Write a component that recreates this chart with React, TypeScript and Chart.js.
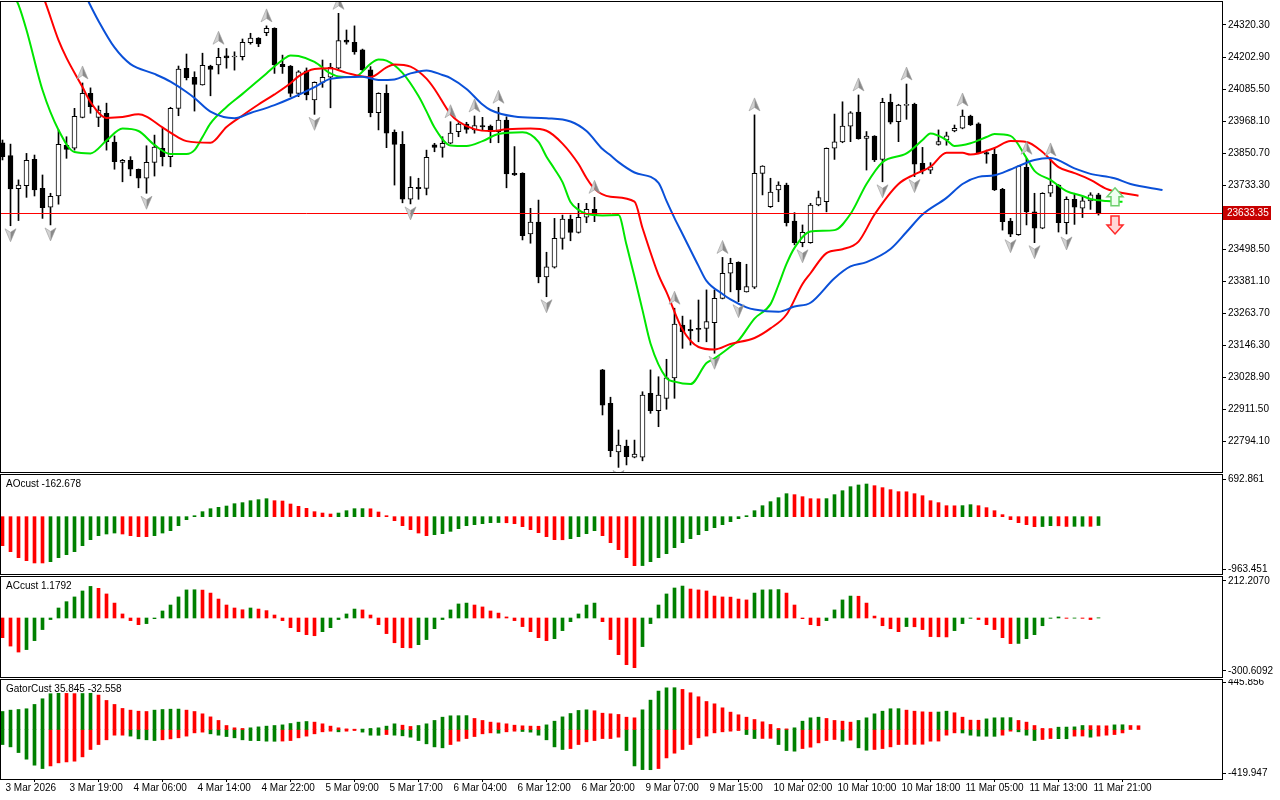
import React, { useEffect, useRef } from "react";
import { Chart, registerables } from "chart.js";

Chart.register(...registerables);

const FONT = "'Liberation Sans', Arial, sans-serif";
const GREEN = "#008000";
const RED = "#ff0000";
const X_MIN = -0.1875;
const X_MAX = 152.4375;

// ---- candles (hourly bars, index 0 = 3 Mar 2026 11:00) ----
const opens = [
  23889, 23842, 23721, 23732, 23828, 23722, 23653, 23694, 23880, 23869,
  23982, 24070, 23982, 23997, 23891, 23817, 23825, 23792, 23759, 23817,
  23869, 23838, 24015, 24162, 24129, 24101, 24170, 24174, 24207, 24203,
  24204, 24256, 24272, 24292, 24308, 24176, 24170, 24070, 24152, 24046,
  24110, 24129, 24162, 24265, 24257, 24229, 24156, 23999, 24070, 23927,
  23883, 23682, 23726, 23722, 23881, 23872, 23887, 23930, 23957, 23936,
  23952, 23950, 23930, 23972, 23777, 23777, 23555, 23598, 23398, 23433,
  23539, 23609, 23561, 23616, 23645, 23057, 22935, 22757, 22778, 22737,
  22737, 22971, 22908, 22953, 23028, 23221, 23206, 23209, 23209, 23230,
  23319, 23411, 23451, 23343, 23360, 23777, 23655, 23716, 23734, 23602,
  23523, 23523, 23661, 23673, 23869, 23892, 23950, 24001, 23905, 23913,
  23828, 24037, 23966, 24026, 24030, 23814, 23789, 23883, 23899, 23932,
  23942, 23987, 23958, 23853, 23847, 23718, 23602, 23552, 23799, 23636,
  23576, 23704, 23734, 23596, 23682, 23649, 23676, 23698,
];
const highs = [
  23899, 23884, 23753, 23850, 23844, 23771, 23704, 23936, 23911, 24015,
  24108, 24090, 24024, 24034, 23914, 23828, 23838, 23793, 23878, 23917,
  23942, 24019, 24170, 24214, 24149, 24217, 24173, 24235, 24234, 24222,
  24269, 24290, 24274, 24317, 24310, 24210, 24172, 24153, 24163, 24112,
  24192, 24180, 24363, 24302, 24317, 24232, 24168, 24072, 24101, 23936,
  23930, 23765, 23759, 23862, 23887, 23911, 23966, 23962, 23964, 23987,
  23982, 23954, 24019, 23984, 23875, 23779, 23649, 23679, 23488, 23612,
  23624, 23624, 23667, 23667, 23689, 23059, 22957, 22837, 22800, 22800,
  22977, 23057, 23032, 23096, 23283, 23254, 23240, 23313, 23350, 23350,
  23469, 23466, 23453, 23444, 23991, 23805, 23759, 23746, 23741, 23633,
  23588, 23667, 23712, 23870, 23994, 24039, 24003, 24064, 23930, 23915,
  24052, 24067, 24030, 24104, 24034, 23872, 23816, 23936, 23928, 23954,
  24009, 23990, 23962, 23862, 23869, 23722, 23612, 23806, 23832, 23704,
  23706, 23826, 23736, 23691, 23704, 23691, 23706, 23704,
];
const lows = [
  23826, 23585, 23604, 23689, 23694, 23612, 23588, 23664, 23832, 23862,
  23980, 23997, 23948, 23862, 23792, 23746, 23768, 23724, 23704, 23767,
  23804, 23801, 23988, 24119, 24005, 24100, 24061, 24141, 24162, 24155,
  24192, 24250, 24241, 24281, 24143, 24143, 24058, 24058, 24046, 23993,
  24092, 24017, 24159, 24250, 24213, 24153, 23984, 23936, 23871, 23734,
  23669, 23665, 23682, 23698, 23856, 23836, 23885, 23911, 23924, 23924,
  23936, 23889, 23889, 23724, 23769, 23533, 23521, 23376, 23325, 23430,
  23499, 23530, 23558, 23596, 23600, 22892, 22739, 22700, 22709, 22735,
  22724, 22898, 22849, 22913, 22953, 23136, 23148, 23160, 23160, 23118,
  23317, 23343, 23307, 23342, 23355, 23698, 23652, 23673, 23584, 23515,
  23508, 23521, 23658, 23636, 23828, 23889, 23893, 23902, 23789, 23820,
  23746, 23958, 23893, 23975, 23765, 23775, 23776, 23880, 23880, 23929,
  23940, 23952, 23851, 23814, 23714, 23569, 23545, 23550, 23588, 23523,
  23574, 23692, 23562, 23555, 23590, 23615, 23645, 23624,
];
const closes = [
  23838, 23720, 23734, 23825, 23716, 23651, 23693, 23883, 23865, 23986,
  24070, 24021, 24009, 23893, 23820, 23825, 23792, 23759, 23817, 23873,
  23838, 24015, 24159, 24127, 24103, 24173, 24158, 24202, 24200, 24206,
  24257, 24272, 24251, 24308, 24174, 24168, 24070, 24149, 24064, 24110,
  24129, 24165, 24263, 24257, 24222, 24156, 23999, 24070, 23924, 23883,
  23682, 23726, 23721, 23836, 23872, 23887, 23924, 23957, 23938, 23952,
  23947, 23930, 23972, 23775, 23771, 23549, 23598, 23398, 23435, 23539,
  23609, 23561, 23616, 23645, 23624, 22928, 22761, 22782, 22739, 22749,
  22965, 22908, 22965, 23028, 23225, 23197, 23200, 23205, 23234, 23319,
  23411, 23447, 23350, 23362, 23777, 23804, 23708, 23734, 23596, 23523,
  23561, 23661, 23688, 23869, 23892, 23950, 23999, 23904, 23913, 23826,
  24037, 23964, 24027, 24030, 23811, 23786, 23801, 23893, 23914, 23942,
  23987, 23954, 23853, 23847, 23716, 23600, 23554, 23804, 23636, 23576,
  23704, 23734, 23596, 23682, 23653, 23676, 23698, 23633.35,
];
const CURRENT_PRICE = 23633.35;

const xTickIndex = [0, 8, 16, 24, 32, 40, 48, 56, 64, 72, 80, 88, 96, 104, 112, 120, 128, 136];
const xTickLabels = [
  "3 Mar 2026", "3 Mar 19:00", "4 Mar 06:00", "4 Mar 14:00", "4 Mar 22:00", "5 Mar 09:00",
  "5 Mar 17:00", "6 Mar 04:00", "6 Mar 12:00", "6 Mar 20:00", "9 Mar 07:00", "9 Mar 15:00",
  "10 Mar 02:00", "10 Mar 10:00", "10 Mar 18:00", "11 Mar 05:00", "11 Mar 13:00", "11 Mar 21:00",
];
const priceTicks = [
  24320.3, 24202.9, 24085.5, 23968.1, 23850.7, 23733.3, 23615.9,
  23498.5, 23381.1, 23263.7, 23146.3, 23028.9, 22911.5, 22794.1,
];

// ---- Alligator lines (bar index, price) ----
const jawX = [8, 10, 12, 14, 16, 19, 21, 23, 24, 26, 29, 31, 34, 36, 39, 41, 45, 47, 49, 51, 53, 55, 56, 58, 60, 61, 64, 68, 71, 73, 75, 76, 77, 79, 82, 83, 84, 85, 87, 88, 90, 91, 93, 94, 97, 99, 101, 104, 106, 108, 111, 113, 115, 118, 120, 122, 124, 126, 129, 131, 134, 136, 139, 141, 145];
const jawY = [24558, 24449, 24335, 24238, 24177, 24141, 24113, 24075, 24053, 24003, 23979, 23998, 24027, 24051, 24093, 24123, 24131, 24119, 24121, 24143, 24154, 24137, 24126, 24086, 24029, 24009, 23985, 23979, 23967, 23932, 23866, 23843, 23818, 23780, 23742, 23676, 23613, 23555, 23438, 23383, 23335, 23315, 23286, 23278, 23270, 23289, 23303, 23393, 23436, 23452, 23500, 23562, 23626, 23687, 23738, 23764, 23770, 23791, 23826, 23833, 23795, 23775, 23759, 23738, 23716];
const teethX = [4, 5, 7, 8, 10, 11, 13, 15, 17, 18, 20, 22, 23, 26, 28, 30, 32, 34, 36, 37, 39, 41, 43, 46, 48, 49, 51, 53, 54, 56, 57, 59, 61, 63, 66, 68, 70, 72, 73, 74, 76, 79, 80, 82, 83, 85, 87, 89, 91, 94, 96, 98, 100, 101, 103, 105, 107, 109, 112, 114, 116, 118, 120, 121, 124, 126, 128, 130, 132, 134, 136, 138, 140, 142];
const teethY = [24485, 24430, 24265, 24200, 24093, 24038, 23980, 23983, 23993, 23985, 23945, 23908, 23895, 23889, 23947, 23989, 24029, 24066, 24107, 24132, 24159, 24162, 24145, 24129, 24165, 24176, 24168, 24124, 24086, 23994, 23967, 23939, 23932, 23938, 23941, 23933, 23886, 23811, 23760, 23720, 23691, 23673, 23577, 23405, 23342, 23205, 23141, 23132, 23152, 23174, 23209, 23260, 23372, 23411, 23485, 23499, 23527, 23626, 23738, 23773, 23801, 23852, 23852, 23846, 23870, 23895, 23892, 23855, 23800, 23778, 23753, 23720, 23705, 23695];
const lipsX = [1, 2, 3, 5, 7, 9, 11, 13, 15, 17, 19, 21, 23, 24, 25, 26, 28, 30, 33, 35, 36, 37, 39, 41, 42, 44, 46, 47, 48, 50, 52, 53, 54, 56, 58, 60, 62, 65, 67, 68, 69, 70, 71, 72, 73, 75, 77, 78, 79, 80, 81, 83, 84, 86, 88, 89, 91, 92, 94, 96, 97, 98, 99, 101, 104, 106, 108, 110, 113, 115, 116, 118, 119, 121, 123, 124, 126, 128, 129, 131, 133, 135, 136, 138, 140];
const lipsY = [24449, 24394, 24302, 24082, 23936, 23855, 23850, 23897, 23941, 23932, 23881, 23848, 23848, 23862, 23910, 23960, 24020, 24068, 24143, 24192, 24209, 24207, 24185, 24143, 24132, 24130, 24178, 24194, 24190, 24145, 24060, 24004, 23945, 23879, 23877, 23895, 23921, 23927, 23892, 23838, 23793, 23745, 23672, 23643, 23628, 23623, 23624, 23515, 23398, 23276, 23154, 23027, 23014, 23005, 23082, 23099, 23142, 23165, 23245, 23298, 23368, 23445, 23504, 23564, 23569, 23628, 23738, 23818, 23850, 23899, 23923, 23899, 23877, 23887, 23910, 23921, 23914, 23833, 23786, 23753, 23712, 23694, 23683, 23676, 23673];

const fractalUp = [10, 27, 33, 42, 56, 59, 62, 74, 84, 90, 94, 107, 113, 120, 128, 131];
const fractalDown = [1, 6, 18, 39, 51, 68, 77, 89, 92, 100, 110, 114, 126, 129, 133];
const signalIndex = 139;
const signalUpPrice = 23724;
const signalDownPrice = 23621;

// ---- AO ----
const aoValues = [
  -534, -644, -754, -810, -852, -852, -828, -754, -699, -644,
  -534, -423, -350, -319, -301, -319, -350, -368, -368, -350,
  -301, -258, -166, -55, 18, 92, 147, 172, 196, 239,
  258, 294, 313, 331, 294, 288, 233, 190, 153, 92,
  67, 49, 67, 110, 147, 148, 145, 86, 18, -74,
  -166, -239, -301, -350, -331, -313, -270, -221, -166, -147,
  -129, -110, -108, -112, -129, -184, -239, -294, -368, -423,
  -425, -405, -368, -313, -258, -350, -478, -607, -754, -902,
  -900, -828, -754, -681, -570, -478, -405, -331, -258, -202,
  -147, -92, -37, 18, 110, 202, 276, 350, 423, 405,
  368, 331, 329, 332, 405, 478, 552, 583, 601, 570,
  534, 497, 460, 458, 423, 386, 294, 258, 202, 200,
  203, 221, 202, 166, 110, 37, -55, -110, -147, -184,
  -182, -166, -168, -180, -178, -176, -178, -162.678,
];
const aoColorRuns = [["R", 6], ["G", 9], ["R", 4], ["G", 15], ["R", 8], ["G", 4], ["R", 8], ["G", 9], ["R", 8], ["G", 4], ["R", 5], ["G", 19], ["R", 4], ["G", 6], ["R", 11], ["G", 2], ["R", 8], ["G", 2], ["R", 2], ["G", 2], ["R", 1], ["G", 1]];
const aoTicks = [692.861, -963.451];
const aoTickLabels = ["692.861", "-963.451"];

// ---- AC ----
const acValues = [
  -112, -160, -194, -180, -129, -66, -9, 57, 93, 120,
  154, 180, 169, 137, 85, 23, -15, -38, -32, -4,
  40, 74, 120, 160, 161, 159, 142, 108, 74, 57,
  47, 57, 51, 42, 17, -15, -55, -78, -95, -101,
  -78, -55, -9, 23, 51, 46, 17, -38, -89, -141,
  -169, -170, -152, -123, -61, -9, 46, 80, 85, 74,
  63, 40, 28, 6, -15, -49, -78, -112, -129, -118,
  -72, -21, 23, 74, 85, -21, -123, -209, -266, -283,
  -163, -32, 74, 137, 171, 182, 165, 160, 154, 125,
  120, 119, 108, 103, 142, 160, 161, 162, 142, 74,
  -4, -38, -44, -15, 46, 103, 125, 124, 85, 11,
  -44, -61, -78, -49, -50, -66, -106, -107, -108, -72,
  -32, -2, -9, -38, -66, -112, -146, -145, -118, -95,
  -44, -2, 6, -2, -1, -2, -9, 1.1792,
];
const acColorRuns = [["R", 3], ["G", 9], ["R", 6], ["G", 7], ["R", 6], ["G", 1], ["R", 8], ["G", 5], ["R", 7], ["G", 7], ["R", 10], ["G", 6], ["R", 5], ["G", 6], ["R", 8], ["G", 4], ["R", 5], ["G", 4], ["R", 6], ["G", 1], ["R", 5], ["G", 3], ["R", 5], ["G", 6], ["R", 1], ["G", 1], ["R", 2], ["G", 1]];
const acTicks = [212.207, -300.6092];
const acTickLabels = ["212.2070", "-300.6092"];

// ---- Gator ----
const gatorUp = [
  171, 184, 190, 197, 238, 292, 340, 344, 343, 341,
  342, 344, 327, 276, 238, 200, 184, 174, 171, 184,
  190, 193, 194, 184, 171, 149, 120, 86, 38, 16,
  10, 16, 25, 32, 38, 44, 57, 70, 76, 70,
  54, 32, 16, 6, 3, 4, 10, 16, 32, 54,
  41, 29, 38, 54, 86, 117, 130, 131, 132, 105,
  86, 70, 63, 54, 41, 35, 32, 31, 44, 79,
  120, 152, 181, 187, 178, 155, 149, 143, 117, 111,
  187, 279, 365, 396, 397, 381, 349, 311, 266, 244,
  206, 165, 140, 117, 95, 73, 48, 10, 6, 16,
  79, 111, 117, 105, 86, 79, 70, 86, 111, 149,
  174, 197, 198, 184, 174, 168, 165, 166, 174, 159,
  117, 89, 88, 101, 111, 112, 113, 86, 70, 38,
  10, 9, 22, 23, 25, 38, 37, 36, 35, 44,
  45, 38, 35.845,
];
const gatorDown = [
  -143, -165, -219, -282, -339, -371, -346, -317, -308, -301,
  -260, -190, -143, -98, -54, -54, -63, -89, -98, -105,
  -98, -89, -79, -63, -32, -25, -41, -54, -67, -79,
  -98, -105, -106, -111, -112, -110, -105, -79, -63, -41,
  -22, -16, -22, -16, -10, -25, -54, -55, -48, -54,
  -60, -73, -105, -136, -165, -174, -143, -111, -86, -67,
  -41, -32, -35, -22, -16, -19, -25, -54, -98, -165,
  -190, -181, -143, -117, -105, -86, -86, -73, -200, -346,
  -381, -382, -371, -270, -225, -190, -143, -79, -63, -32,
  -22, -16, -10, -48, -86, -85, -84, -143, -200, -206,
  -181, -168, -127, -105, -95, -111, -101, -174, -197, -190,
  -181, -165, -143, -142, -141, -140, -111, -110, -54, -32,
  -33, -54, -63, -64, -65, -54, -16, -22, -54, -105,
  -95, -86, -87, -88, -63, -62, -73, -63, -54, -48,
  -32.558,
];
const gatorTicks = [445.856, -419.947];
const gatorTickLabels = ["445.856", "-419.947"];

// ---------------------------------------------------------------

function expandRuns(runs: any[]) {
  const out: string[] = [];
  runs.forEach(([c, n]: any) => {
    for (let i = 0; i < n; i++) out.push(c === "G" ? GREEN : RED);
  });
  return out;
}

function rightAxis(min: number, max: number, ticks: number[], labels: string[]) {
  return {
    type: "linear",
    position: "right",
    min,
    max,
    afterBuildTicks: (s: any) => {
      s.ticks = ticks.map((v) => ({ value: v }));
    },
    afterFit: (s: any) => {
      s.width = 58;
      s.paddingTop = 0;
      s.paddingBottom = 0;
    },
    ticks: {
      autoSkip: false,
      padding: 2,
      color: "#000",
      font: { family: FONT, size: 10 },
      callback: (_v: any, i: number) => labels[i],
    },
    grid: { drawOnChartArea: false, drawTicks: true, tickLength: 4, color: "#000", tickColor: "#000" },
    border: { display: false },
  };
}

function hiddenX() {
  return { type: "linear", min: X_MIN, max: X_MAX, offset: false, display: false };
}

const framePlugin = {
  id: "frame",
  afterDraw(chart: any) {
    const { ctx, chartArea: a } = chart;
    ctx.save();
    ctx.strokeStyle = "#000";
    ctx.lineWidth = 1;
    ctx.strokeRect(Math.round(a.left) - 0.5, Math.round(a.top) - 0.5, Math.round(a.right - a.left) + 1, Math.round(a.bottom - a.top) + 1);
    ctx.restore();
  },
};

const titlePlugin = {
  id: "panelTitle",
  afterDraw(chart: any, _args: any, opts: any) {
    if (!opts || !opts.text) return;
    const { ctx, chartArea: a } = chart;
    ctx.save();
    ctx.fillStyle = "#000";
    ctx.font = `10px ${FONT}`;
    ctx.textBaseline = "middle";
    ctx.fillText(opts.text, a.left + 5, a.top + 9);
    ctx.restore();
  },
};

function drawFractal(ctx: any, x: number, y: number, up: boolean) {
  ctx.save();
  ctx.translate(x, y);
  if (!up) ctx.scale(1, -1);
  ctx.beginPath();
  ctx.moveTo(0, -7);
  ctx.lineTo(-5.5, 6);
  ctx.lineTo(0, 2.5);
  ctx.closePath();
  ctx.fillStyle = "#d2d2d2";
  ctx.fill();
  ctx.beginPath();
  ctx.moveTo(0, -7);
  ctx.lineTo(0, 2.5);
  ctx.lineTo(5.5, 6);
  ctx.closePath();
  ctx.fillStyle = "#8a8a8a";
  ctx.fill();
  ctx.strokeStyle = "#9a9a9a";
  ctx.lineWidth = 0.6;
  ctx.beginPath();
  ctx.moveTo(0, -7);
  ctx.lineTo(-5.5, 6);
  ctx.lineTo(0, 2.5);
  ctx.lineTo(5.5, 6);
  ctx.closePath();
  ctx.stroke();
  ctx.restore();
}

function drawBigArrow(ctx: any, cx: number, yTop: number, up: boolean, stroke: string, fill: string) {
  const h = 18;
  const pts = up
    ? [[0, 0], [8, 9], [4, 9], [4, h], [-4, h], [-4, 9], [-8, 9]]
    : [[0, h], [8, h - 9], [4, h - 9], [4, 0], [-4, 0], [-4, h - 9], [-8, h - 9]];
  ctx.save();
  ctx.beginPath();
  pts.forEach(([px, py], i) => {
    if (i === 0) ctx.moveTo(cx + px, yTop + py);
    else ctx.lineTo(cx + px, yTop + py);
  });
  ctx.closePath();
  ctx.fillStyle = fill;
  ctx.fill();
  ctx.strokeStyle = stroke;
  ctx.lineWidth = 1.5;
  ctx.stroke();
  ctx.restore();
}

const mainOverlay = {
  id: "mainOverlay",
  afterDatasetsDraw(chart: any) {
    const { ctx, chartArea: a, scales } = chart;
    ctx.save();
    ctx.beginPath();
    ctx.rect(a.left, a.top, a.right - a.left, a.bottom - a.top);
    ctx.clip();
    // current price line
    const py = Math.round(scales.y.getPixelForValue(CURRENT_PRICE)) + 0.5;
    ctx.strokeStyle = "#ff0000";
    ctx.lineWidth = 1;
    ctx.beginPath();
    ctx.moveTo(a.left, py);
    ctx.lineTo(a.right, py);
    ctx.stroke();
    fractalUp.forEach((i) => {
      drawFractal(ctx, scales.x.getPixelForValue(i), scales.y.getPixelForValue(highs[i]) - 10, true);
    });
    fractalDown.forEach((i) => {
      drawFractal(ctx, scales.x.getPixelForValue(i), scales.y.getPixelForValue(lows[i]) + 9, false);
    });
    const sx = Math.round(scales.x.getPixelForValue(signalIndex));
    drawBigArrow(ctx, sx, scales.y.getPixelForValue(signalUpPrice), true, "#6fcf6f", "#f0fff0");
    drawBigArrow(ctx, sx, scales.y.getPixelForValue(signalDownPrice), false, "#ff2a2a", "#ffd6d6");
    ctx.restore();
  },
  afterDraw(chart: any) {
    const { ctx, chartArea: a, scales } = chart;
    const y = Math.round(scales.y.getPixelForValue(CURRENT_PRICE));
    ctx.save();
    ctx.fillStyle = "#c80000";
    ctx.fillRect(a.right + 1, y - 7, 48, 14);
    ctx.fillStyle = "#fff";
    ctx.font = `10px ${FONT}`;
    ctx.textBaseline = "middle";
    ctx.fillText(CURRENT_PRICE.toFixed(2), a.right + 5, y);
    ctx.restore();
  },
};

function mainConfig(): any {
  const idx = opens.map((_, i) => i);
  const lineDs = (xs: number[], ys: number[], color: string) => ({
    type: "line",
    data: xs.map((x, i) => ({ x, y: ys[i] })),
    borderColor: color,
    borderWidth: 2,
    pointRadius: 0,
    cubicInterpolationMode: "monotone",
    order: 0,
  });
  return {
    type: "bar",
    data: {
      datasets: [
        {
          label: "wick",
          data: idx.map((i) => ({ x: i, y: [lows[i], highs[i]] })),
          backgroundColor: "#000",
          borderWidth: 0,
          barThickness: 1,
          grouped: false,
          order: 3,
        },
        {
          label: "body",
          data: idx.map((i) => ({ x: i, y: [opens[i], closes[i]] })),
          backgroundColor: idx.map((i) => (closes[i] >= opens[i] ? "#fff" : "#000")),
          borderColor: "#000",
          borderWidth: 1,
          borderSkipped: false,
          barThickness: 5,
          minBarLength: 1,
          grouped: false,
          order: 2,
        },
        lineDs(jawX, jawY, "#0a50d8"),
        lineDs(teethX, teethY, "#ff0000"),
        lineDs(lipsX, lipsY, "#00e600"),
      ],
    },
    options: {
      responsive: false,
      animation: false,
      devicePixelRatio: 1,
      events: [],
      layout: { padding: { left: 1, top: 2, right: 0, bottom: 2 } },
      plugins: { legend: { display: false }, tooltip: { enabled: false } },
      scales: {
        x: hiddenX(),
        y: rightAxis(22683.1, 24404.5, priceTicks, priceTicks.map((v) => v.toFixed(2))),
      },
    },
    plugins: [mainOverlay, framePlugin],
  };
}

function histConfig(datasets: any[], min: number, max: number, ticks: number[], labels: string[], title: string, withX: boolean): any {
  const x: any = withX
    ? {
        type: "linear",
        min: X_MIN,
        max: X_MAX,
        offset: false,
        afterBuildTicks: (s: any) => {
          s.ticks = xTickIndex.map((v) => ({ value: v }));
        },
        afterFit: (s: any) => {
          s.height = 21;
          s.paddingLeft = 0;
          s.paddingRight = 0;
        },
        ticks: {
          autoSkip: false,
          maxRotation: 0,
          minRotation: 0,
          align: "start",
          labelOffset: 3,
          padding: 0,
          color: "#000",
          font: { family: FONT, size: 10 },
          callback: (_v: any, i: number) => xTickLabels[i],
        },
        grid: { drawOnChartArea: false, drawTicks: true, tickLength: 3, color: "#000", tickColor: "#000" },
        border: { display: false },
      }
    : hiddenX();
  return {
    type: "bar",
    data: { datasets },
    options: {
      responsive: false,
      animation: false,
      devicePixelRatio: 1,
      events: [],
      layout: { padding: { left: 1, top: 1, right: 0, bottom: withX ? 0 : 1 } },
      plugins: { legend: { display: false }, tooltip: { enabled: false }, panelTitle: { text: title } },
      scales: { x, y: rightAxis(min, max, ticks, labels) },
    },
    plugins: [framePlugin, titlePlugin],
  };
}

function histDs(values: number[], colors: string[]) {
  return {
    data: values.map((v, i) => ({ x: i, y: v })),
    backgroundColor: colors,
    borderWidth: 0,
    barThickness: 3,
    grouped: false,
  };
}

export default function App() {
  const mainRef = useRef<HTMLCanvasElement>(null);
  const aoRef = useRef<HTMLCanvasElement>(null);
  const acRef = useRef<HTMLCanvasElement>(null);
  const gatorRef = useRef<HTMLCanvasElement>(null);

  useEffect(() => {
    const charts: any[] = [];
    charts.push(new Chart(mainRef.current as any, mainConfig()));
    charts.push(
      new Chart(
        aoRef.current as any,
        histConfig([histDs(aoValues, expandRuns(aoColorRuns))], -1054.9, 766.7, aoTicks, aoTickLabels, "AOcust -162.678", false)
      )
    );
    charts.push(
      new Chart(
        acRef.current as any,
        histConfig([histDs(acValues, expandRuns(acColorRuns))], -336.2, 233.6, acTicks, acTickLabels, "ACcust 1.1792", false)
      )
    );
    const upColors = gatorUp.map((v, i) => (i === 0 || v > gatorUp[i - 1] ? GREEN : RED));
    const dnColors = gatorDown.map((v, i) => (i === 0 || Math.abs(v) > Math.abs(gatorDown[i - 1]) ? GREEN : RED));
    charts.push(
      new Chart(
        gatorRef.current as any,
        histConfig(
          [histDs(gatorUp, upColors), histDs(gatorDown, dnColors)],
          -470.25,
          470.25,
          gatorTicks,
          gatorTickLabels,
          "GatorCust 35.845 -32.558",
          true
        )
      )
    );
    return () => charts.forEach((c) => c.destroy());
  }, []);

  const cs = (top: number, h: number): any => ({ position: "absolute", left: 0, top, width: 1280, height: h });
  return (
    <div style={{ position: "absolute", left: 0, top: 0, width: 1280, height: 800, background: "#fff" }}>
      <canvas ref={mainRef} width={1280} height={474} style={cs(0, 474)} />
      <canvas ref={aoRef} width={1280} height={101} style={cs(474, 101)} />
      <canvas ref={acRef} width={1280} height={102} style={cs(576, 102)} />
      <canvas ref={gatorRef} width={1280} height={121} style={cs(679, 121)} />
    </div>
  );
}
